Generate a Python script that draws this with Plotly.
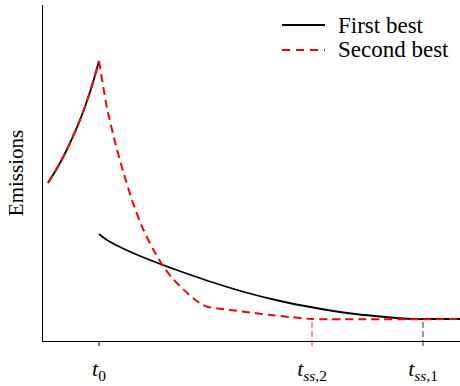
import plotly.graph_objects as go

# ---------------- data ----------------
series_names = ["First best", "Second best"]

# common rising branch before t0
rise_x = [5, 17, 27, 37, 47, 56]
rise_y = [158, 178, 198, 221, 249, 280]

# first best after t0
fb_x = [56, 64, 77, 97, 120, 145, 170, 203, 237, 270, 304, 337, 370, 380, 417]
fb_y = [107, 101, 94, 85, 76, 67, 58.5, 48.5, 40, 33.5, 28, 24.5, 22, 22, 22]

# second best after t0
sb_x = [56, 64, 72, 80, 90, 100, 110, 120, 130, 140, 150, 158, 165, 175, 187, 207, 227, 247, 269, 417]
sb_y = [280, 233, 199, 170, 138, 112, 92, 75, 62, 52, 43, 37, 34, 32.5, 31, 28.5, 26, 24, 22, 22]

tick_vals = [56, 269, 380]
tick_text = ["<i>t</i><sub>0</sub>",
             "<i>t</i><sub><i>ss</i>,2</sub>",
             "<i>t</i><sub><i>ss</i>,1</sub>"]
tick_colors = ["black", "#ff3030", "#333333"]
tick_dashes = ["solid", "6px,3px", "6px,3px"]
tick_tops = [0, 22, 22]

# ---------------- layout constants ----------------
W, H = 460, 386
ML, MR, MT, MB = 43, 0, 5, 45
XMAX, YMAX = 417, 336
PW, PH = W - ML - MR, H - MT - MB
FONT = "Liberation Serif"
RED = "#ff0000"

fig = go.Figure()

fig.add_trace(go.Scatter(x=rise_x, y=rise_y, mode="lines",
                         line=dict(color="black", width=1.8, shape="spline"),
                         showlegend=False, hoverinfo="skip"))
fig.add_trace(go.Scatter(x=fb_x, y=fb_y, mode="lines", name=series_names[0],
                         line=dict(color="black", width=1.8, shape="spline", smoothing=0.8),
                         showlegend=False))
fig.add_trace(go.Scatter(x=rise_x, y=rise_y, mode="lines",
                         line=dict(color=RED, width=2, dash="8px,5px", shape="spline"),
                         showlegend=False, hoverinfo="skip"))
fig.add_trace(go.Scatter(x=sb_x, y=sb_y, mode="lines", name=series_names[1],
                         line=dict(color=RED, width=2, dash="8px,5px", shape="spline", smoothing=0.6),
                         showlegend=False))

shapes = []
for v, c, d, top in zip(tick_vals, tick_colors, tick_dashes, tick_tops):
    shapes.append(dict(type="line", xref="x", yref="paper", x0=v, x1=v,
                       y0=-5 / PH, y1=top / YMAX,
                       line=dict(color=c, width=1, dash=d)))

# manual legend
leg_x0, leg_x1, leg_tx = 282, 325, 336
leg_rows = [25, 50]
leg_styles = [dict(color="black", width=1.8), dict(color=RED, width=2, dash="8px,6px")]
annotations = []
for name, yy, st in zip(series_names, leg_rows, leg_styles):
    py = (H - MB - yy) / PH
    shapes.append(dict(type="line", xref="paper", yref="paper",
                       x0=(leg_x0 - ML) / PW, x1=(leg_x1 - ML) / PW, y0=py, y1=py,
                       line=st))
    annotations.append(dict(text=name, xref="paper", yref="paper",
                            x=(leg_tx - ML) / PW, y=py, xanchor="left", yanchor="middle",
                            showarrow=False, font=dict(family=FONT, size=23, color="black")))

fig.update_layout(
    width=W, height=H,
    margin=dict(l=ML, r=MR, t=MT, b=MB, autoexpand=False),
    paper_bgcolor="white", plot_bgcolor="white",
    showlegend=False,
    shapes=shapes, annotations=annotations,
    xaxis=dict(range=[0, XMAX], showgrid=False, zeroline=False,
               showline=True, linecolor="black", linewidth=1,
               tickmode="array", tickvals=tick_vals, ticktext=tick_text,
               ticks="", tickfont=dict(family=FONT, size=22, color="black"),
               ticklabelstandoff=8),
    yaxis=dict(range=[0, YMAX], showgrid=False, zeroline=False,
               showline=True, linecolor="black", linewidth=1.3,
               showticklabels=False, ticks="",
               title=dict(text="Emissions", standoff=12,
                          font=dict(family=FONT, size=21, color="black"))),
)

fig.write_html("out.html", config={"displayModeBar": False},
               post_script="document.body.style.margin='0';document.body.style.padding='0';")
